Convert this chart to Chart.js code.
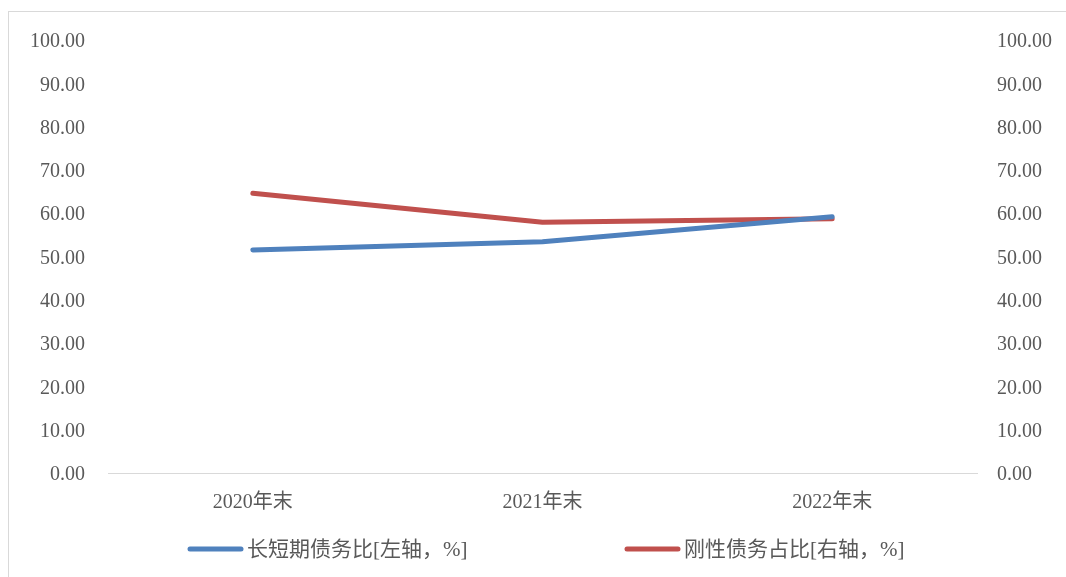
<!DOCTYPE html>
<html>
<head>
<meta charset="utf-8">
<script src="https://cdn.jsdelivr.net/npm/chart.js@4.4.1/dist/chart.umd.min.js"></script>
<style>
    html, body { margin: 0; padding: 0; background: #fff; overflow: hidden; }
    #frame {
        position: absolute; left: 8px; top: 11px;
        width: 1070px; height: 580px;
        border-left: 1px solid #d9d9d9; border-top: 1px solid #d9d9d9;
    }
    #wrap { position: absolute; left: 0; top: 0; width: 1057px; height: 565px; }
</style>
</head>
<body>
<div id="frame"><div id="wrap"><canvas id="myChart"></canvas></div></div>
<script>
document.addEventListener('DOMContentLoaded', () => {
    'use strict';

    const categories = ['2020年末', '2021年末', '2022年末'];
    const longShortRatio = [51.5, 53.4, 59.2];   // 长短期债务比, left axis
    const rigidDebtShare = [64.6, 57.9, 58.7];   // 刚性债务占比, right axis
    const tickValues = [0, 10, 20, 30, 40, 50, 60, 70, 80, 90, 100];

    const seriesNames = ['长短期债务比[左轴，%]', '刚性债务占比[右轴，%]'];
    const blue = '#4F81BD';
    const red = '#C0504D';

    const tickFont = { family: "'Liberation Serif', 'Noto Sans CJK SC'", size: 20 };
    const tickColor = '#595959';

    // kill the extra half-label padding so the plot box is set by the layout only
    function noPad(scale) {
        scale.paddingTop = 0;
        scale.paddingBottom = 0;
        scale.paddingLeft = 0;
        scale.paddingRight = 0;
    }

    // legend drawn under the plot, spaced like the original
    const bottomLegend = {
        id: 'bottomLegend',
        afterDraw(chart) {
            const ctx = chart.ctx;
            const area = chart.chartArea;
            const y = 537;
            const starts = [area.left + 80, area.left + 517];
            ctx.save();
            ctx.font = "21px 'Liberation Serif', 'Noto Sans CJK SC'";
            ctx.textBaseline = 'middle';
            chart.data.datasets.forEach((ds, i) => {
                const x = starts[i];
                ctx.strokeStyle = ds.borderColor;
                ctx.lineWidth = 5;
                ctx.lineCap = 'round';
                ctx.beginPath();
                ctx.moveTo(x + 2, y);
                ctx.lineTo(x + 53, y);
                ctx.stroke();
                ctx.fillStyle = tickColor;
                ctx.fillText(ds.label, x + 59, y + 1);
            });
            ctx.restore();
        }
    };

    const ctx = document.getElementById('myChart').getContext('2d');
    const myChart = new Chart(ctx, {
        type: 'line',
        data: {
            labels: categories,
            datasets: [{
                label: seriesNames[0],
                data: longShortRatio,
                yAxisID: 'y',
                borderColor: blue,
                backgroundColor: blue,
                borderWidth: 5,
                borderCapStyle: 'round',
                borderJoinStyle: 'round',
                pointRadius: 0,
                tension: 0
            }, {
                label: seriesNames[1],
                data: rigidDebtShare,
                yAxisID: 'y1',
                borderColor: red,
                backgroundColor: red,
                borderWidth: 5,
                borderCapStyle: 'round',
                borderJoinStyle: 'round',
                pointRadius: 0,
                tension: 0
            }]
        },
        options: {
            responsive: true,
            maintainAspectRatio: false,
            animation: false,
            layout: { padding: { top: 28, bottom: 0, left: 0, right: 0 } },
            scales: {
                x: {
                    offset: true,
                    grid: { display: false, drawTicks: false, offset: true },
                    border: { display: true, color: '#d9d9d9', width: 1 },
                    ticks: { font: tickFont, color: tickColor, padding: 18, maxRotation: 0 },
                    afterFit(scale) { scale.height = 104; noPad(scale); }
                },
                y: {
                    position: 'left',
                    min: 0,
                    max: 100,
                    grid: { display: false, drawTicks: false },
                    border: { display: false },
                    afterBuildTicks(scale) { scale.ticks = tickValues.map(v => ({ value: v })); },
                    ticks: {
                        font: tickFont, color: tickColor, padding: 23, labelOffset: 2,
                        callback: v => v.toFixed(2)
                    },
                    afterFit(scale) { scale.width = 99; noPad(scale); }
                },
                y1: {
                    position: 'right',
                    min: 0,
                    max: 100,
                    grid: { display: false, drawTicks: false },
                    border: { display: false },
                    afterBuildTicks(scale) { scale.ticks = tickValues.map(v => ({ value: v })); },
                    ticks: {
                        font: tickFont, color: tickColor, padding: 20, labelOffset: 2,
                        callback: v => v.toFixed(2)
                    },
                    afterFit(scale) { scale.width = 89; noPad(scale); }
                }
            },
            plugins: {
                legend: { display: false },
                tooltip: { enabled: false }
            }
        },
        plugins: [bottomLegend]
    });
});
</script>
</body>
</html>
